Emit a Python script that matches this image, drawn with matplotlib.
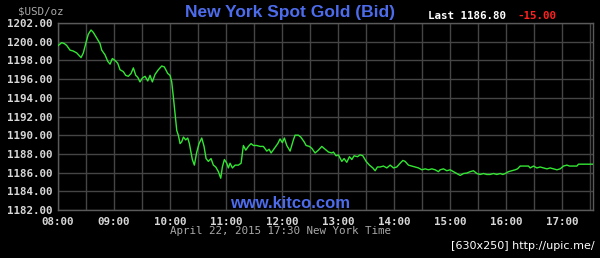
import matplotlib
matplotlib.use("Agg")
import matplotlib.pyplot as plt
from matplotlib.ticker import MultipleLocator, FixedLocator

# time in hours (New York), bid price in USD/oz
hours = [8.005, 8.066, 8.113, 8.155, 8.214, 8.273, 8.334, 8.411, 8.452, 8.495,
         8.541, 8.589, 8.630, 8.691, 8.750, 8.780, 8.839, 8.888, 8.929, 8.970,
         9.018, 9.066, 9.107, 9.166, 9.209, 9.255, 9.304, 9.345, 9.388, 9.423,
         9.464, 9.505, 9.554, 9.602, 9.643, 9.684, 9.732, 9.791, 9.852, 9.898,
         9.959, 10.000, 10.030, 10.059, 10.089, 10.120, 10.148, 10.179, 10.209, 10.238,
         10.280, 10.316, 10.345, 10.375, 10.398, 10.434, 10.477, 10.518, 10.566, 10.607,
         10.643, 10.684, 10.732, 10.773, 10.816, 10.863, 10.905, 10.934, 10.970, 11.013,
         11.041, 11.071, 11.113, 11.161, 11.220, 11.268, 11.309, 11.352, 11.398, 11.446,
         11.488, 11.548, 11.607, 11.666, 11.727, 11.768, 11.804, 11.863, 11.923, 11.964,
         12.005, 12.041, 12.084, 12.143, 12.202, 12.232, 12.291, 12.334, 12.393, 12.429,
         12.488, 12.530, 12.589, 12.648, 12.709, 12.768, 12.827, 12.888, 12.916, 12.964,
         13.005, 13.066, 13.107, 13.155, 13.202, 13.245, 13.286, 13.345, 13.393, 13.441,
         13.500, 13.559, 13.620, 13.661, 13.702, 13.750, 13.809, 13.870, 13.929, 13.988,
         14.048, 14.107, 14.155, 14.196, 14.255, 14.316, 14.375, 14.434, 14.495, 14.554,
         14.613, 14.673, 14.732, 14.791, 14.821, 14.880, 14.941, 15.000, 15.059, 15.120,
         15.179, 15.238, 15.298, 15.357, 15.416, 15.477, 15.536, 15.595, 15.655, 15.714,
         15.773, 15.834, 15.893, 15.941, 15.982, 16.041, 16.102, 16.161, 16.202, 16.250,
         16.339, 16.398, 16.429, 16.488, 16.548, 16.607, 16.666, 16.727, 16.786, 16.845,
         16.905, 16.964, 17.023, 17.084, 17.130, 17.202, 17.263, 17.291, 17.380, 17.470,
         17.550]
prices = [1199.6, 1199.9, 1199.8, 1199.6, 1199.1, 1199.0, 1198.8, 1198.3, 1198.8, 1199.8,
          1200.8, 1201.25, 1201.0, 1200.4, 1199.8, 1199.1, 1198.6, 1197.9, 1197.6, 1198.2,
          1198.0, 1197.7, 1197.0, 1196.8, 1196.4, 1196.3, 1196.6, 1197.2, 1196.4, 1196.2,
          1195.7, 1196.1, 1196.3, 1195.8, 1196.4, 1195.7, 1196.5, 1197.0, 1197.4, 1197.3,
          1196.6, 1196.4, 1195.7, 1194.1, 1192.3, 1190.5, 1190.0, 1189.1, 1189.3, 1189.8,
          1189.5, 1189.7, 1189.1, 1188.1, 1187.4, 1186.8, 1188.2, 1189.1, 1189.7, 1188.8,
          1187.5, 1187.2, 1187.5, 1186.8, 1186.6, 1186.1, 1185.4, 1186.6, 1187.4, 1187.0,
          1186.5, 1187.0, 1186.5, 1186.8, 1186.8, 1187.0, 1188.9, 1188.4, 1188.8, 1189.1,
          1188.9, 1188.9, 1188.8, 1188.8, 1188.3, 1188.5, 1188.1, 1188.6, 1189.1, 1189.6,
          1189.2, 1189.7, 1188.9, 1188.3, 1189.5, 1190.0, 1190.0, 1189.8, 1189.3, 1188.9,
          1188.8, 1188.6, 1188.1, 1188.4, 1188.8, 1188.5, 1188.2, 1188.1, 1188.2, 1187.8,
          1187.9, 1187.2, 1187.5, 1187.1, 1187.7, 1187.4, 1187.8, 1187.7, 1187.9, 1187.8,
          1187.2, 1186.8, 1186.5, 1186.2, 1186.6, 1186.6, 1186.7, 1186.5, 1186.8, 1186.5,
          1186.6, 1187.0, 1187.3, 1187.2, 1186.8, 1186.7, 1186.6, 1186.5, 1186.3, 1186.4,
          1186.3, 1186.4, 1186.3, 1186.1, 1186.3, 1186.4, 1186.2, 1186.3, 1186.1, 1185.9,
          1185.7, 1185.9, 1185.95, 1186.1, 1186.2, 1185.9, 1185.8, 1185.9, 1185.8, 1185.8,
          1185.9, 1185.8, 1185.9, 1185.8, 1185.9, 1186.1, 1186.2, 1186.3, 1186.4, 1186.7,
          1186.7, 1186.7, 1186.5, 1186.7, 1186.5, 1186.6, 1186.5, 1186.4, 1186.5, 1186.4,
          1186.3, 1186.4, 1186.7, 1186.8, 1186.7, 1186.7, 1186.7, 1186.9, 1186.9, 1186.9,
          1186.9]

x_ticks = [8, 9, 10, 11, 12, 13, 14, 15, 16, 17]
x_tick_labels = ["08:00", "09:00", "10:00", "11:00", "12:00",
                 "13:00", "14:00", "15:00", "16:00", "17:00"]
y_ticks = [1182, 1184, 1186, 1188, 1190, 1192, 1194, 1196, 1198, 1200, 1202]
y_tick_labels = ["%.2f" % v for v in y_ticks]

title = "New York Spot Gold (Bid)"
last_text = "Last 1186.80"
change_text = "-15.00"
unit_text = "$USD/oz"
site_text = "www.kitco.com"
date_text = "April 22, 2015 17:30 New York Time"
watermark = "[630x250] http://upic.me/"

BG = "black"
GRID = "#454545"
TICK = "#d8d8d8"
BLUE = "#4d6cec"
MONO = "DejaVu Sans Mono"

fig = plt.figure(figsize=(6.0, 2.58), dpi=100, facecolor=BG)
ax = fig.add_axes([58 / 600, 1 - 210 / 258, (593 - 58) / 600, (210 - 23) / 258])
ax.set_facecolor(BG)

ax.plot(hours, prices, color="#33e633", lw=1.0, zorder=3)

ax.set_xlim(8, 17.55)
ax.set_ylim(1182, 1202)
ax.xaxis.set_major_locator(FixedLocator(x_ticks))
ax.set_xticklabels(x_tick_labels)
ax.xaxis.set_minor_locator(MultipleLocator(0.5))
ax.yaxis.set_major_locator(FixedLocator(y_ticks))
ax.set_yticklabels(y_tick_labels)

ax.grid(True, which="both", axis="x", color=GRID, lw=1.0, zorder=1)
ax.grid(True, which="major", axis="y", color=GRID, lw=1.0, zorder=1)
ax.tick_params(which="both", length=0)
ax.tick_params(axis="y", pad=4)
ax.tick_params(axis="x", pad=5)
for lab in ax.get_xticklabels() + ax.get_yticklabels():
    lab.set_fontfamily(MONO)
    lab.set_fontweight("bold")
    lab.set_fontsize(7.8)
    lab.set_color(TICK)
for s in ax.spines.values():
    s.set_color("#5a5a5a")
    s.set_linewidth(1.0)

fig.text(290 / 600, 1 - 12 / 258, title, color=BLUE, fontsize=12.5, fontweight="bold",
         family="Liberation Sans", ha="center", va="center")
fig.text(428 / 600, 1 - 16 / 258, last_text, color="white", fontsize=7.8, fontweight="bold",
         family=MONO, ha="left", va="center")
fig.text(517 / 600, 1 - 16 / 258, change_text, color="#ff2020", fontsize=7.8, fontweight="bold",
         family=MONO, ha="left", va="center")
fig.text(18 / 600, 1 - 11 / 258, unit_text, color="#aaaaaa", fontsize=7.8,
         family=MONO, ha="left", va="center")
fig.text(290 / 600, 1 - 203 / 258, site_text, color=BLUE, fontsize=12, fontweight="bold",
         family="Liberation Sans", ha="center", va="center", zorder=5)
fig.text(281 / 600, 1 - 231 / 258, date_text, color="#a8a8a8", fontsize=7.8,
         family=MONO, ha="center", va="center")
fig.text(595 / 600, 1 - 246 / 258, watermark, color="white", fontsize=8.0,
         family="DejaVu Sans", ha="right", va="center")

fig.savefig("out.png", dpi=100, facecolor=BG)
